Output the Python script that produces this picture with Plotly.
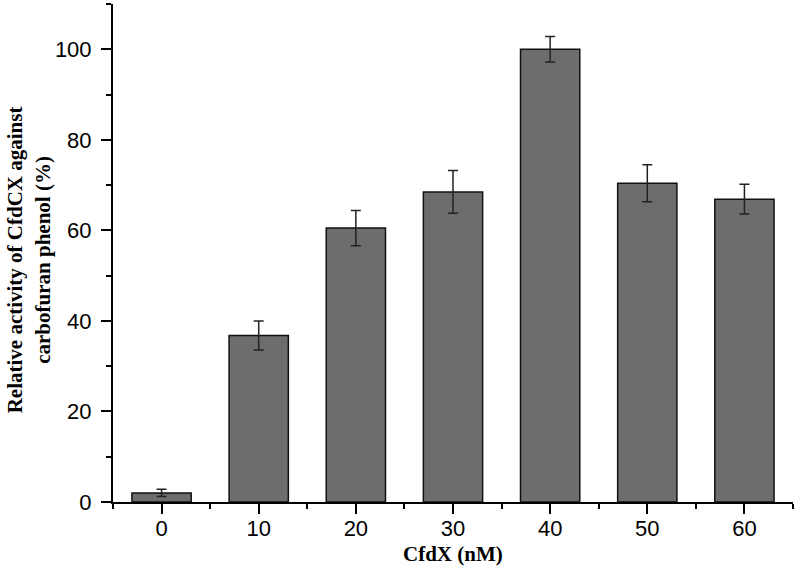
import plotly.graph_objects as go

concentrations = [0, 10, 20, 30, 40, 50, 60]
activity = [2.0, 36.8, 60.5, 68.5, 100.0, 70.4, 66.9]
errors = [0.8, 3.2, 3.9, 4.7, 2.8, 4.1, 3.3]
x_title = "CfdX (nM)"
y_title = "Relative activity of CfdCX against<br>carbofuran phenol (%)"

tickfont = dict(family="Liberation Sans, Arial", size=22, color="black")
titlefont = dict(family="Liberation Serif, Times New Roman", size=21, color="black")

bars = go.Bar(
    x=concentrations,
    y=activity,
    width=6.1,
    marker=dict(color="#6d6d6d", line=dict(color="#111111", width=1.5)),
    error_y=dict(type="data", array=errors, visible=True,
                 color="#222222", thickness=1.5, width=5),
)

fig = go.Figure(data=[bars])
fig.update_layout(
    width=800, height=567,
    margin=dict(l=113, r=7, t=4, b=65, autoexpand=False),
    plot_bgcolor="white", paper_bgcolor="white",
    showlegend=False,
    xaxis=dict(
        range=[-5, 65], tickmode="linear", tick0=0, dtick=10,
        showline=True, linecolor="black", linewidth=2,
        ticks="outside", ticklen=10, tickwidth=2, tickcolor="black",
        minor=dict(ticks="outside", ticklen=5, tickwidth=2, tickcolor="black", dtick=5, tick0=-5),
        showgrid=False, zeroline=False, tickfont=tickfont, automargin=False,
        ticklabelstandoff=-4,
    ),
    yaxis=dict(
        range=[0, 110], tickmode="linear", tick0=0, dtick=20,
        showline=True, linecolor="black", linewidth=2,
        ticks="outside", ticklen=10, tickwidth=2, tickcolor="black",
        minor=dict(ticks="outside", ticklen=5, tickwidth=2, tickcolor="black", dtick=10),
        showgrid=False, zeroline=False, tickfont=tickfont, automargin=False,
        ticklabelstandoff=5,
    ),
    annotations=[
        dict(text="<b>" + x_title + "</b>", font=titlefont, showarrow=False,
             xref="paper", yref="paper", x=0.5, y=-0.105, xanchor="center", yanchor="middle"),
        dict(text="<b>" + y_title + "</b>", font=titlefont, showarrow=False, textangle=-90,
             xref="paper", yref="paper", x=-0.123, y=0.486, xanchor="center", yanchor="middle"),
    ],
)

# page has a default body margin; drop it so the figure sits at the window corner
fig.write_html("out.html", config={"displayModeBar": False},
               post_script="document.body.style.margin='0';")
